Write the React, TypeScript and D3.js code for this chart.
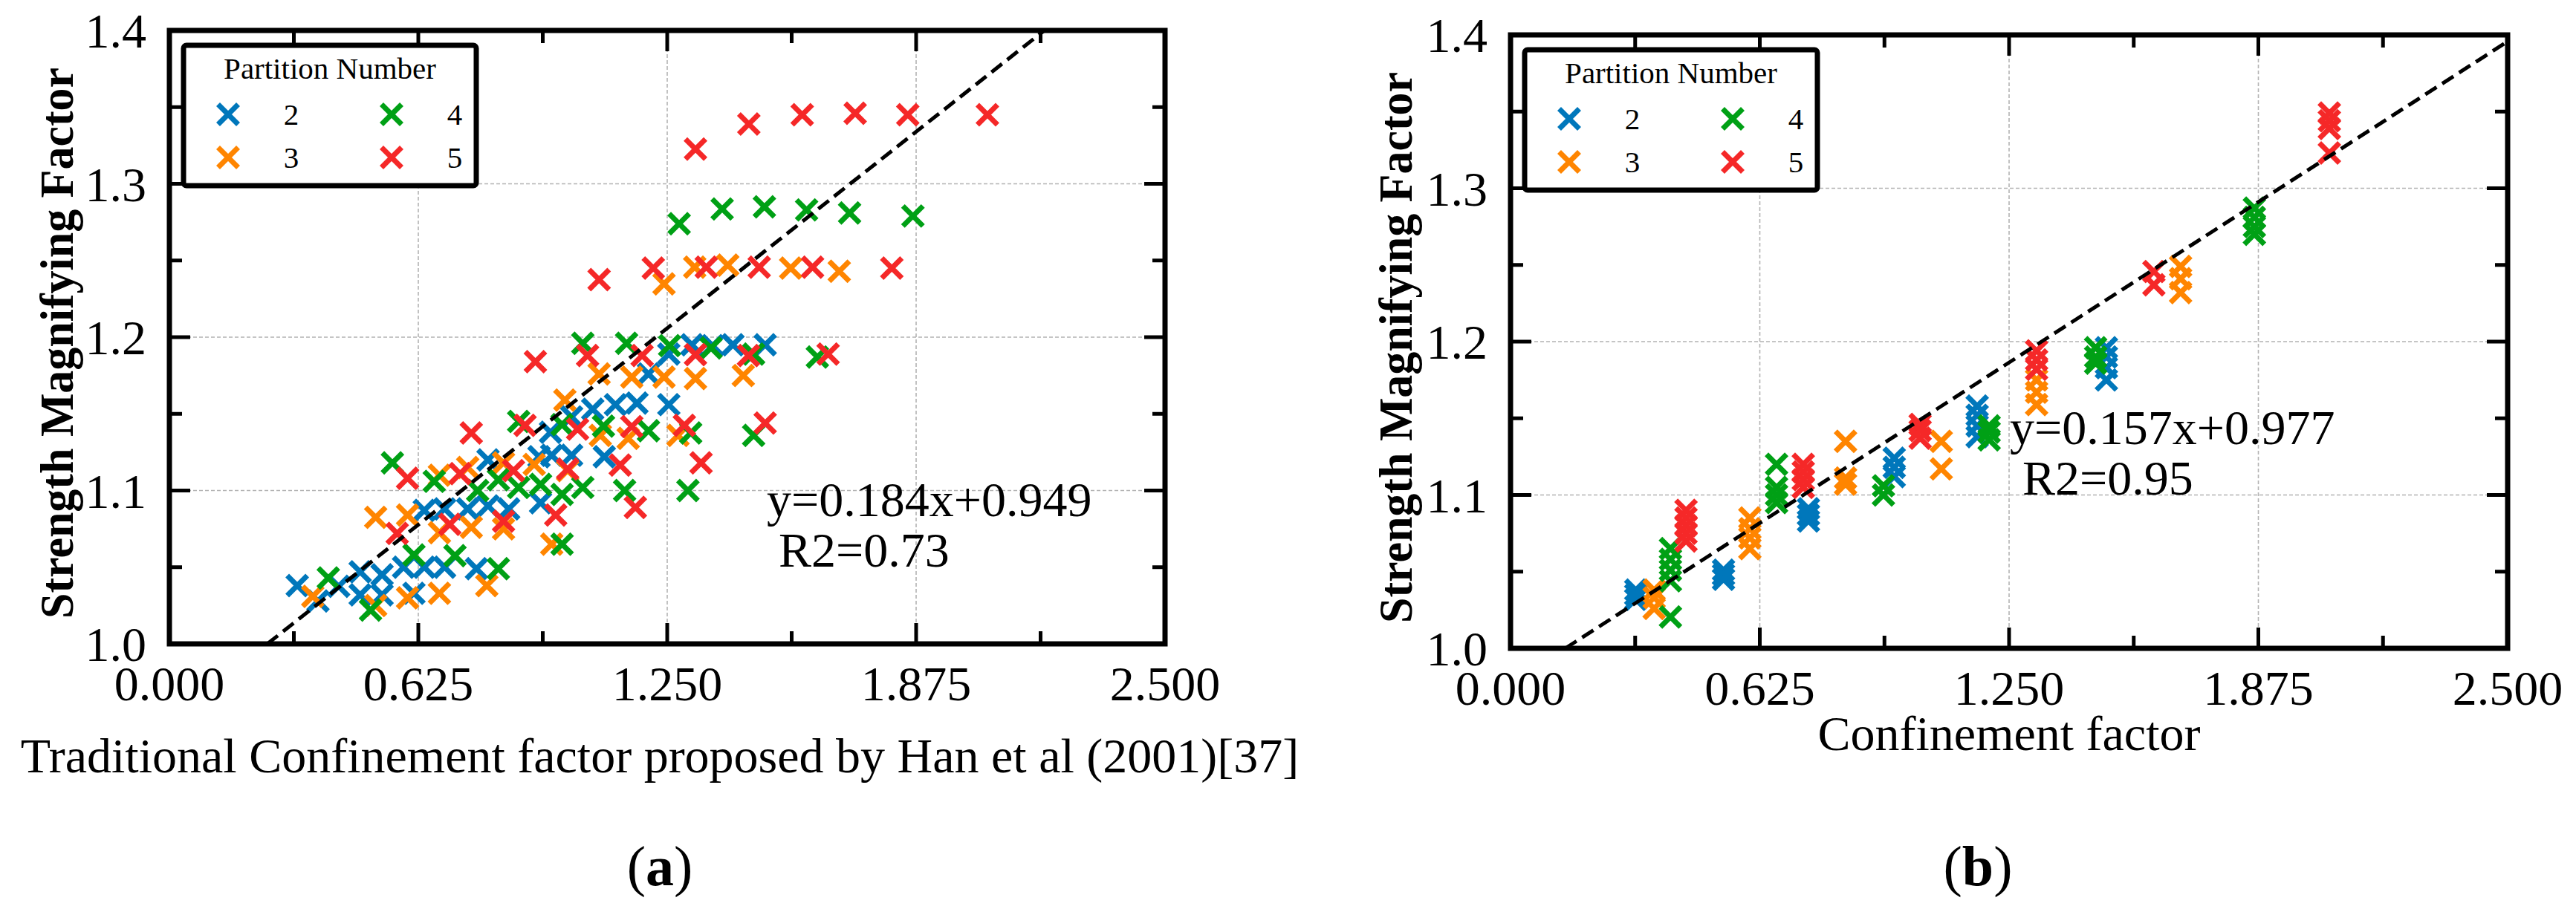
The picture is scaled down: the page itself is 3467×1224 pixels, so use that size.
import * as d3 from "d3";

// partition numbers and their colours
const partitions = ["2", "3", "4", "5"];
const colors = ["#0077BB", "#FF8500", "#00A015", "#F52828"];

const xMajor = [0, 0.625, 1.25, 1.875, 2.5];
const xMinor = [0.3125, 0.9375, 1.5625, 2.1875];
const yMajor = [1.0, 1.1, 1.2, 1.3, 1.4];
const yMinor = [1.05, 1.15, 1.25, 1.35];

// (a) traditional confinement factor vs strength magnifying factor
const a2: [number, number][] = [
  [0.321, 1.038], [0.373, 1.028], [0.425, 1.0375], [0.479, 1.047], [0.479, 1.032],
  [0.534, 1.045], [0.534, 1.032], [0.588, 1.05], [0.614, 1.033], [0.64, 1.05],
  [0.691, 1.05], [0.771, 1.049], [0.64, 1.087], [0.691, 1.088], [0.749, 1.088],
  [0.8, 1.09], [0.852, 1.088], [0.8, 1.12], [0.928, 1.122], [0.96, 1.123],
  [1.01, 1.123], [0.932, 1.092], [0.957, 1.138], [1.01, 1.148], [1.063, 1.153],
  [1.092, 1.122], [1.12, 1.156], [1.174, 1.157], [1.203, 1.176], [1.254, 1.156],
  [1.254, 1.189], [1.312, 1.195], [1.364, 1.1945], [1.415, 1.195], [1.496, 1.195],
];
const a3: [number, number][] = [
  [0.36, 1.031], [0.518, 1.025], [0.518, 1.0825], [0.598, 1.084], [0.598, 1.03],
  [0.678, 1.033], [0.678, 1.0725], [0.758, 1.076], [0.797, 1.038], [0.839, 1.075],
  [0.678, 1.11], [0.749, 1.115], [0.839, 1.118], [0.916, 1.117], [1.0, 1.113],
  [0.96, 1.065], [0.993, 1.159], [1.079, 1.176], [1.082, 1.136], [1.152, 1.134],
  [1.161, 1.174], [1.242, 1.174], [1.321, 1.173], [1.441, 1.175], [1.277, 1.136],
  [1.242, 1.2347], [1.319, 1.2456], [1.402, 1.247], [1.56, 1.245], [1.682, 1.243],
];
const a4: [number, number][] = [
  [0.399, 1.043], [0.505, 1.022], [0.56, 1.118], [0.614, 1.058], [0.665, 1.106],
  [0.717, 1.0575], [0.826, 1.049], [0.774, 1.1], [0.826, 1.107], [0.877, 1.102],
  [0.932, 1.104], [0.986, 1.0975], [1.038, 1.102], [0.986, 1.065], [0.877, 1.145],
  [0.986, 1.143], [1.038, 1.196], [1.09, 1.142], [1.143, 1.1], [1.302, 1.1],
  [1.148, 1.196], [1.256, 1.1945], [1.36, 1.193], [1.467, 1.189], [1.627, 1.187],
  [1.203, 1.139], [1.309, 1.1375], [1.467, 1.136], [1.28, 1.274], [1.388, 1.2836],
  [1.494, 1.285], [1.6, 1.283], [1.708, 1.281], [1.867, 1.279],
];
const a5: [number, number][] = [
  [0.572, 1.072], [0.598, 1.108], [0.704, 1.078], [0.758, 1.1375], [0.73, 1.111],
  [0.864, 1.113], [0.839, 1.08], [0.919, 1.184], [0.893, 1.1425], [1.0, 1.114],
  [0.97, 1.084], [1.025, 1.14], [1.05, 1.188], [1.079, 1.2375], [1.17, 1.089],
  [1.132, 1.1166], [1.161, 1.1417], [1.187, 1.188], [1.215, 1.245], [1.293, 1.1425],
  [1.321, 1.1886], [1.335, 1.118], [1.348, 1.2456], [1.454, 1.188], [1.481, 1.2456],
  [1.496, 1.144], [1.615, 1.2456], [1.654, 1.189], [1.814, 1.245], [1.321, 1.3226],
  [1.455, 1.339], [1.589, 1.345], [1.722, 1.346], [1.854, 1.345], [2.054, 1.345],
];

// (b) confinement factor vs strength magnifying factor
const b2: [number, number][] = [
  [0.314, 1.038], [0.314, 1.035], [0.314, 1.032], [0.534, 1.051], [0.534, 1.048],
  [0.534, 1.045], [0.747, 1.091], [0.747, 1.087], [0.747, 1.083], [0.962, 1.124],
  [0.962, 1.118], [0.962, 1.112], [1.17, 1.158], [1.17, 1.152], [1.17, 1.145],
  [1.17, 1.138], [1.494, 1.196], [1.494, 1.19], [1.494, 1.183], [1.494, 1.175],
];
const b3: [number, number][] = [
  [0.36, 1.038], [0.36, 1.033], [0.36, 1.026], [0.6, 1.085], [0.6, 1.078],
  [0.6, 1.072], [0.6, 1.065], [0.84, 1.135], [0.84, 1.111], [0.84, 1.107],
  [1.08, 1.135], [1.08, 1.117], [1.319, 1.175], [1.319, 1.167], [1.319, 1.159],
  [1.68, 1.249], [1.68, 1.241], [1.68, 1.232],
];
const b4: [number, number][] = [
  [0.401, 1.0205], [0.401, 1.065], [0.401, 1.058], [0.401, 1.051], [0.401, 1.044],
  [0.667, 1.12], [0.667, 1.105], [0.667, 1.1], [0.667, 1.095], [0.935, 1.106],
  [0.935, 1.1], [1.2, 1.145], [1.2, 1.141], [1.2, 1.136], [1.467, 1.196],
  [1.467, 1.19], [1.467, 1.186], [1.865, 1.287], [1.865, 1.281], [1.865, 1.275],
  [1.865, 1.27],
];
const b5: [number, number][] = [
  [0.44, 1.09], [0.44, 1.085], [0.44, 1.08], [0.44, 1.075], [0.44, 1.07],
  [0.734, 1.12], [0.734, 1.115], [0.734, 1.11], [0.734, 1.105], [1.027, 1.146],
  [1.027, 1.142], [1.027, 1.137], [1.319, 1.194], [1.319, 1.188], [1.319, 1.182],
  [1.613, 1.2457], [1.613, 1.237], [2.053, 1.349], [2.053, 1.344], [2.053, 1.339],
  [2.053, 1.323],
];

// dashed trend lines as drawn in the figure
const fitA = { slope: 0.205, intercept: 0.9496, label: "y=0.184x+0.949", r2: "R2=0.73" };
const fitB = { slope: 0.1675, intercept: 0.977, label: "y=0.157x+0.977", r2: "R2=0.95" };

const serif = "'Liberation Serif', 'Times New Roman', serif";

function Cross({ x, y, color, h = 13.5 }: { x: number; y: number; color: string; h?: number }) {
  return (
    <path
      d={`M${x - h},${y - h}L${x + h},${y + h}M${x - h},${y + h}L${x + h},${y - h}`}
      stroke={color}
      strokeWidth={7}
      fill="none"
    />
  );
}

interface PanelProps {
  box: { left: number; right: number; top: number; bottom: number };
  series: [number, number][][];
  fit: { slope: number; intercept: number; label: string; r2: string };
  eqPos: { x: number; y: number; rx: number; ry: number };
  xLabel: string;
  xLabelPos: { x: number; y: number };
  yLabelX: number;
  tag: string;
  tagPos: { x: number; y: number };
}

function Panel({ box, series, fit, eqPos, xLabel, xLabelPos, yLabelX, tag, tagPos }: PanelProps) {
  const x = d3.scaleLinear().domain([0, 2.5]).range([box.left, box.right]);
  const y = d3.scaleLinear().domain([1.0, 1.4]).range([box.bottom, box.top]);
  const fx = d3.format(".3f");
  const fy = d3.format(".1f");

  const x0 = (1.0 - fit.intercept) / fit.slope;
  const x1 = Math.min(2.5, (1.4 - fit.intercept) / fit.slope);
  const line = d3
    .line<number>()
    .x((d) => x(d))
    .y((d) => y(fit.intercept + fit.slope * d));

  const lg = { x: box.left + 19, y: box.top + 20, w: 394, h: 189 };

  return (
    <g>
      {/* grid */}
      {xMajor.slice(1, -1).map((t) => (
        <line key={"gx" + t} x1={x(t)} x2={x(t)} y1={box.top} y2={box.bottom}
          stroke="#b3b3b3" strokeWidth={1.6} strokeDasharray="5 3" />
      ))}
      {yMajor.slice(1, -1).map((t) => (
        <line key={"gy" + t} y1={y(t)} y2={y(t)} x1={box.left} x2={box.right}
          stroke="#b3b3b3" strokeWidth={1.6} strokeDasharray="5 3" />
      ))}

      {/* ticks on all four sides, inward */}
      {[...xMajor.map((t) => [t, 28]), ...xMinor.map((t) => [t, 17])].map(([t, len]) => (
        <g key={"tx" + t}>
          <line x1={x(t)} x2={x(t)} y1={box.bottom} y2={box.bottom - len} stroke="#000" strokeWidth={5} />
          <line x1={x(t)} x2={x(t)} y1={box.top} y2={box.top + len} stroke="#000" strokeWidth={5} />
        </g>
      ))}
      {[...yMajor.map((t) => [t, 28]), ...yMinor.map((t) => [t, 17])].map(([t, len]) => (
        <g key={"ty" + t}>
          <line y1={y(t)} y2={y(t)} x1={box.left} x2={box.left + len} stroke="#000" strokeWidth={5} />
          <line y1={y(t)} y2={y(t)} x1={box.right} x2={box.right - len} stroke="#000" strokeWidth={5} />
        </g>
      ))}

      {/* points */}
      {series.map((s, i) =>
        s.map(([px, py], j) => <Cross key={`p${i}-${j}`} x={x(px)} y={y(py)} color={colors[i]} />)
      )}

      {/* trend line */}
      <path d={line([x0, x1]) ?? ""} fill="none" stroke="#000" strokeWidth={5} strokeDasharray="18 9" />

      {/* frame */}
      <rect x={box.left} y={box.top} width={box.right - box.left} height={box.bottom - box.top}
        fill="none" stroke="#000" strokeWidth={7} />

      {/* tick labels */}
      {xMajor.map((t) => (
        <text key={"lx" + t} x={x(t)} y={box.bottom + 76} textAnchor="middle"
          fontFamily={serif} fontSize={66}>{fx(t)}</text>
      ))}
      {yMajor.map((t) => (
        <text key={"ly" + t} x={box.left - 31} y={y(t) + 23} textAnchor="end"
          fontFamily={serif} fontSize={66}>{fy(t)}</text>
      ))}

      {/* axis titles */}
      <text x={xLabelPos.x} y={xLabelPos.y} textAnchor="middle" fontFamily={serif} fontSize={66}>{xLabel}</text>
      <text transform={`translate(${yLabelX},${(box.top + box.bottom) / 2 + 8}) rotate(-90)`}
        textAnchor="middle" fontFamily={serif} fontSize={63} fontWeight="bold"
        textLength={742} lengthAdjust="spacingAndGlyphs">Strength Magnifying Factor</text>

      {/* equation */}
      <text x={eqPos.x} y={eqPos.y} fontFamily={serif} fontSize={66}>{fit.label}</text>
      <text x={eqPos.rx} y={eqPos.ry} fontFamily={serif} fontSize={66}>{fit.r2}</text>

      {/* legend */}
      <rect x={lg.x} y={lg.y} width={lg.w} height={lg.h} rx={4} fill="#fff" stroke="#000" strokeWidth={7} />
      <text x={lg.x + lg.w / 2} y={lg.y + 45} textAnchor="middle" fontFamily={serif} fontSize={41}>Partition Number</text>
      {partitions.map((p, i) => {
        const col = Math.floor(i / 2);
        const row = i % 2;
        const mx = lg.x + 60 + col * 220;
        const my = lg.y + 93 + row * 58;
        return (
          <g key={"lg" + p}>
            <Cross x={mx} y={my} color={colors[i]} />
            <text x={mx + 85} y={my + 14} textAnchor="middle" fontFamily={serif} fontSize={41}>{p}</text>
          </g>
        );
      })}

      {/* panel tag */}
      <text x={tagPos.x} y={tagPos.y} textAnchor="middle" fontFamily={serif} fontSize={76}>
        (<tspan fontWeight="bold">{tag}</tspan>)
      </text>
    </g>
  );
}

export default function App() {
  return (
    <svg width={3467} height={1224} style={{ position: "absolute", left: 0, top: 0, background: "#fff" }}>
      <rect width={3467} height={1224} fill="#fff" />
      <Panel
        box={{ left: 228, right: 1568, top: 41, bottom: 867 }}
        series={[a2, a3, a4, a5]}
        fit={fitA}
        eqPos={{ x: 1032, y: 695, rx: 1048, ry: 763 }}
        xLabel="Traditional Confinement factor proposed by Han et al (2001)[37]"
        xLabelPos={{ x: 888, y: 1040 }}
        yLabelX={98}
        tag="a"
        tagPos={{ x: 888, y: 1192 }}
      />
      <Panel
        box={{ left: 2033, right: 3375, top: 47, bottom: 873 }}
        series={[b2, b3, b4, b5]}
        fit={fitB}
        eqPos={{ x: 2705, y: 598, rx: 2722, ry: 666 }}
        xLabel="Confinement factor"
        xLabelPos={{ x: 2704, y: 1010 }}
        yLabelX={1900}
        tag="b"
        tagPos={{ x: 2662, y: 1192 }}
      />
    </svg>
  );
}
